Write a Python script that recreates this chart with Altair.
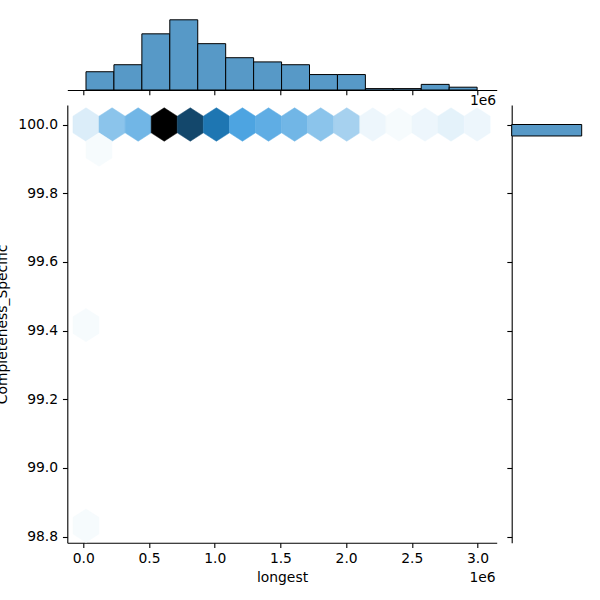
import altair as alt
import pandas as pd
import numpy as np

# ---------------- data ----------------
# hexbin cells: centre on "longest", centre on "Completeness_Specific", count
hex_x = [20500, 218900, 417400, 615800, 814200, 1012700, 1211100, 1409500,
         1608000, 1806400, 2004800, 2203300, 2401700, 2600100, 2798600, 2997000,
         119700, 20500, 20500]
hex_y = [100.0, 100.0, 100.0, 100.0, 100.0, 100.0, 100.0, 100.0,
         100.0, 100.0, 100.0, 100.0, 100.0, 100.0, 100.0, 100.0,
         99.927, 99.416, 98.832]
hex_count = [5, 14, 17, 50, 38, 30, 21, 19, 17, 14, 11, 3, 2, 3, 4, 3, 2, 2, 2]

# marginal histogram of "longest"
xhist_start = [20500, 233100, 445700, 658300, 870900, 1083500, 1296100,
               1508800, 1721400, 1934000, 2146600, 2359200, 2571800, 2784400]
xhist_end = [233100, 445700, 658300, 870900, 1083500, 1296100, 1508800,
             1721400, 1934000, 2146600, 2359200, 2571800, 2784400, 2997000]
xhist_count = [13, 18, 40, 50, 33, 23, 20, 18, 11, 11, 1, 1, 4, 2]

# marginal histogram of "Completeness_Specific" (only visible bin)
yhist_start = [99.9666]
yhist_end = [100.0]
yhist_count = [239]

x_ticks = [0, 500000, 1000000, 1500000, 2000000, 2500000, 3000000]
y_ticks = [98.8, 99.0, 99.2, 99.4, 99.6, 99.8, 100.0]
offset_label = ["1e6"]

# ---------------- layout / style ----------------
W, H = 429.4, 437.7
FS = 13.89
XDOM = [-121800, 3146000]
YDOM = [98.7825, 100.0568]
palette = ['#ffffff', '#d7ebf8', '#b0d6f1', '#88c2ea', '#61aee4', '#399add',
           '#2283c6', '#1b699e', '#154f77', '#0e344f', '#071a28', '#000000']
cstops = list(np.linspace(1, 50, len(palette)))
HEX = "M0,-1L0.78,-0.5L0.78,0.5L0,1L-0.78,0.5L-0.78,-0.5Z"

hex_df = pd.DataFrame({"longest": hex_x, "Completeness_Specific": hex_y, "count": hex_count})
xh_df = pd.DataFrame({"start": xhist_start, "end": xhist_end, "count": xhist_count})
yh_df = pd.DataFrame({"start": yhist_start, "end": yhist_end, "count": yhist_count})
lab_df = pd.DataFrame({"t": offset_label})

xs = alt.Scale(domain=XDOM, range=[0, W], nice=False, zero=False)
ys = alt.Scale(domain=YDOM, range=[H, 0], nice=False, zero=False)
cs = alt.Scale(domain=cstops, range=palette, interpolate="rgb")

hexes = alt.Chart(hex_df).mark_point(
    shape=HEX, filled=True, size=1118, opacity=1, strokeWidth=0.5
).encode(
    x=alt.X("longest:Q", scale=xs, axis=alt.Axis(
        values=x_ticks, labelExpr="format(datum.value / 1000000, '.1f')",
        labelBaseline="alphabetic", labelPadding=14.9,
        title="longest", titleX=W / 2, titleY=39, titleAlign="center",
        titleBaseline="alphabetic")),
    y=alt.Y("Completeness_Specific:Q", scale=ys, axis=alt.Axis(
        values=y_ticks, format=".1f", labelPadding=4.9,
        title="Completeness_Specific", titleX=-60.8, titleY=H / 2,
        titleAngle=270, titleAlign="center", titleBaseline="alphabetic")),
    color=alt.Color("count:Q", scale=cs, legend=None),
    stroke=alt.Stroke("count:Q", scale=cs, legend=None),
)

top = alt.Chart(xh_df).mark_rect(fill="#5799c7", stroke="black", strokeWidth=1).encode(
    x=alt.X("start:Q", scale=xs, axis=alt.Axis(
        orient="bottom", offset=-(H + 15), values=x_ticks, labels=False,
        title="1e6", titleX=W - 1, titleY=14.3, titleAlign="right",
        titleBaseline="alphabetic", titleAngle=0)),
    x2="end:Q",
    y=alt.Y("count:Q", scale=alt.Scale(domain=[0, 60], range=[-15, -15 - 60 * 1.404],
                                        nice=False, zero=False), axis=None),
    y2=alt.datum(0),
)

right = alt.Chart(yh_df).mark_rect(fill="#5799c7", stroke="black", strokeWidth=1).encode(
    y=alt.Y("start:Q", scale=ys, axis=alt.Axis(
        orient="left", offset=-(W + 15), values=y_ticks, labels=False, title=None)),
    y2="end:Q",
    x=alt.X("count:Q", scale=alt.Scale(domain=[0, 300], range=[W + 15, W + 15 + 300 * 0.2929],
                                        nice=False, zero=False), axis=None),
    x2=alt.datum(0),
)

off = alt.Chart(lab_df).mark_text(
    align="right", baseline="alphabetic", fontSize=FS, font="DejaVu Sans", color="black"
).encode(text="t:N", x=alt.value(W - 1), y=alt.value(H + 39))

chart = alt.layer(hexes, top, right, off).resolve_scale(
    x="independent", y="independent"
).properties(
    width=W, height=H,
    autosize=alt.AutoSizeParams(type="none"),
    padding={"left": 67.3, "top": 105, "right": 600 - 67.3 - W, "bottom": 600 - 105 - H},
).configure(font="DejaVu Sans").configure_view(strokeWidth=0).configure_axis(
    grid=False, domainColor="black", tickColor="black", labelColor="black",
    titleColor="black", labelFont="DejaVu Sans", titleFont="DejaVu Sans",
    labelFontSize=FS, titleFontSize=FS, titleFontWeight="normal",
    domainWidth=1.1, tickWidth=1.1, tickSize=4.86, labelFlush=False,
    labelOverlap=False, titlePadding=0,
)

chart.save("out.html", embed_options={"renderer": "svg", "actions": False})
